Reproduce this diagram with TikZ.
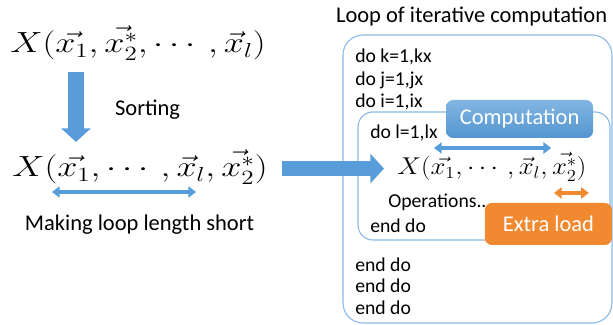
\documentclass[tikz,border=0pt]{standalone}
\definecolor{loopblue}{RGB}{88, 157, 218}
\definecolor{lineblue}{RGB}{140, 186, 232}
\definecolor{loadorange}{RGB}{240, 137, 48}
\usepackage{fontspec}
\setmainfont{Carlito}
\usepackage{tikz}
\usetikzlibrary{arrows.meta, positioning}
\usepackage{amsmath, amssymb, graphicx}

\begin{document}
\begin{tikzpicture}[
  code/.style={anchor=west, inner sep=0pt, font=\fontsize{14}{16}\selectfont},
  caption/.style={inner sep=0pt, font=\fontsize{16}{19}\selectfont},
  bigmath/.style={anchor=base west, inner sep=0pt, font=\fontsize{22}{26}\selectfont},
  blockarrow/.style={loopblue, line width=0.38cm, -{Triangle[width=0.72cm, length=0.34cm]}},
  span/.style={line width=2.6pt, {Triangle[width=8pt, length=5.5pt]}-{Triangle[width=8pt, length=5.5pt]}},
  tag/.style={rounded corners=5pt, text=white, inner sep=0pt, font=\fontsize{16}{19}\selectfont}
]
  \useasboundingbox (0, 0) rectangle (15.325, 8.125);

  % Sorting the arguments
  \node[bigmath] (orig) at (0.25, 6.8) {\scalebox{1.24}[1]{$X(\vec{x_1}, \vec{x_2^*}, \cdots, \vec{x}_l)$}};
  \node[bigmath] (sorted) at (0.3, 3.7) {\scalebox{1.24}[1]{$X(\vec{x_1}, \cdots, \vec{x}_l, \vec{x_2^*})$}};
  \coordinate (sorttop) at (1.9, 6.325);
  \coordinate (sortend) at (1.9, 4.575);
  \draw[blockarrow] (sorttop) -- (sortend);
  \node[caption] (sorting) at (3.69, 5.375) {Sorting};

  \coordinate (shortl) at (1.3, 3.325);
  \coordinate (shortr) at (4.9, 3.325);
  \draw[span, loopblue] (shortl) -- (shortr);
  \node[caption] (short) at (3.49, 2.5) {Making loop length short};

  % Into the loop
  \coordinate (feedl) at (7.05, 3.91);
  \coordinate (feedr) at (9.6, 3.91);

  \node[caption] (title) at (11.79, 7.7) {Loop of iterative computation};
  \draw[lineblue, line width=0.8pt, rounded corners=0.5cm] (8.575, 0.05) rectangle (15.3, 7.25);
  \node[code] (dok) at (8.875, 6.7) {do k=1,kx};
  \node[code] (doj) at (8.875, 6.125) {do j=1,jx};
  \node[code] (doi) at (8.875, 5.575) {do i=1,ix};

  \draw[lineblue, line width=0.8pt, fill=white, rounded corners=0.375cm] (8.95, 2.125) rectangle (15.25, 5.325);
  \draw[blockarrow] (feedl) -- (feedr);
  \node[code] (dol) at (9.25, 4.8) {do l=1,lx};
  \node[bigmath, font=\fontsize{18.5}{22}\selectfont] (inner) at (9.925, 3.75) {\scalebox{1.1}[1]{$X(\vec{x_1}, \cdots, \vec{x}_l, \vec{x_2^*})$}};
  \node[code] (ops) at (9.7, 3.075) {Operations...};
  \node[code] (endl) at (9.25, 2.475) {end do};

  \node[code] (endi) at (8.875, 1.5) {end do};
  \node[code] (endj) at (8.875, 0.975) {end do};
  \node[code] (endk) at (8.875, 0.425) {end do};

  % Computation and extra load
  \node[tag, top color=loopblue!75!white, bottom color=loopblue!95!black, minimum width=3.675cm, minimum height=0.95cm] (comp) at (12.99, 5.15) {Computation};
  \coordinate (compl) at (10.85, 4.425);
  \coordinate (compr) at (13.78, 4.425);
  \draw[span, loopblue] (compl) -- (compr);

  \node[tag, fill=loadorange, minimum width=3.175cm, minimum height=1.05cm] (extra) at (13.71, 2.525) {Extra load};
  \coordinate (extral) at (13.85, 3.3);
  \coordinate (extrar) at (14.72, 3.3);
  \draw[span, loadorange] (extral) -- (extrar);
\end{tikzpicture}
\end{document}
